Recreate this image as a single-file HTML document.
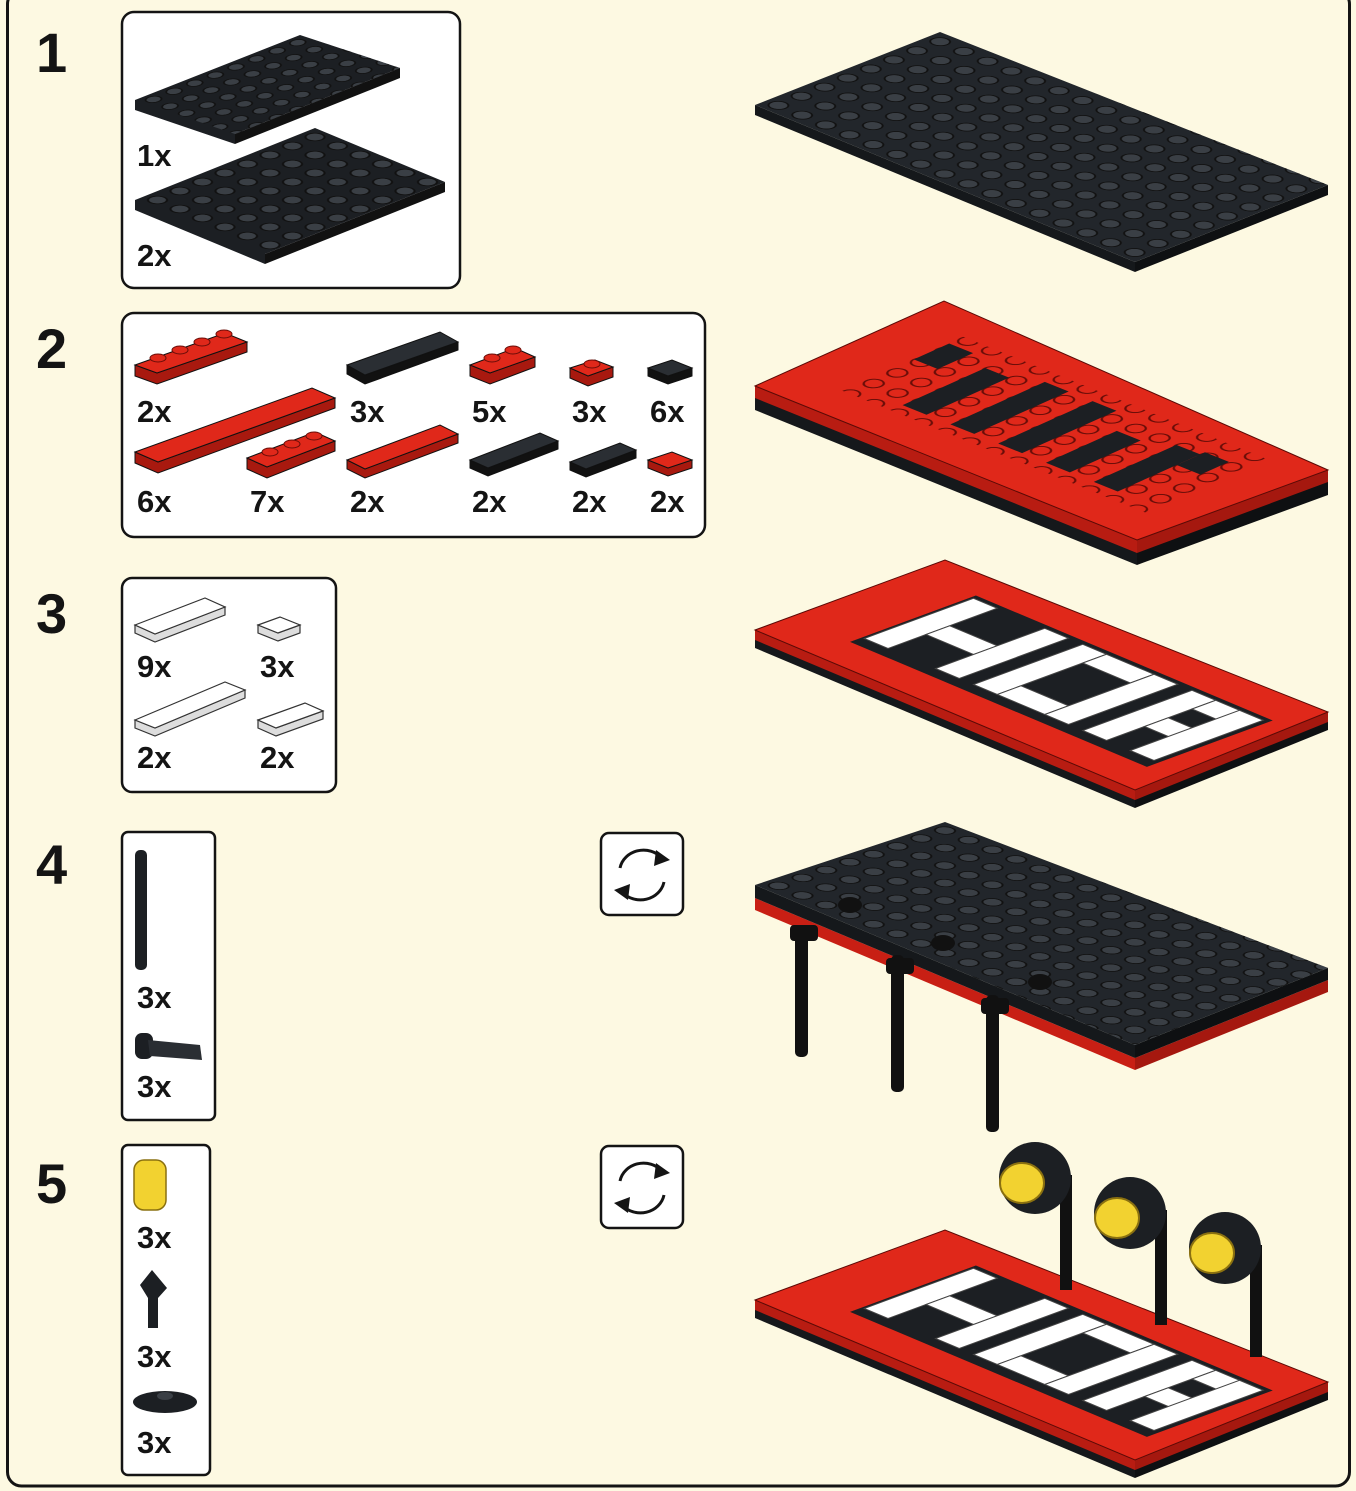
<!DOCTYPE html>
<html><head><meta charset="utf-8"><style>
html,body{margin:0;padding:0;background:#fdf9e2}
svg{display:block}
text{font-family:"Liberation Sans",sans-serif;font-weight:bold;fill:#141414}
</style></head><body>
<svg width="1356" height="1491" viewBox="0 0 1356 1491" xmlns="http://www.w3.org/2000/svg">
<defs>
<pattern id="studB" width="1" height="1" patternUnits="userSpaceOnUse" patternTransform="matrix(23.75 9.81 23.1 -9.1 755 105)">
<circle cx=".5" cy=".5" r=".3" fill="#3a3f45" stroke="#111" stroke-width=".06"/>
</pattern>
<pattern id="studB4" width="1" height="1" patternUnits="userSpaceOnUse" patternTransform="matrix(23.75 9.6 23.75 -7.9 755 885)">
<circle cx=".5" cy=".5" r=".3" fill="#3a3f45" stroke="#111" stroke-width=".06"/>
</pattern>
<pattern id="studR" width="1" height="1" patternUnits="userSpaceOnUse" patternTransform="matrix(23.9 9.6 23.6 -10.6 755 386)">
<circle cx=".5" cy=".5" r=".3" fill="#e0281a" stroke="#6a0d08" stroke-width=".07"/>
</pattern>
<pattern id="studS1" width="1" height="1" patternUnits="userSpaceOnUse" patternTransform="matrix(16.5 6.9 20.6 -8.1 135 100)">
<circle cx=".5" cy=".5" r=".3" fill="#3a3f45" stroke="#111" stroke-width=".07"/>
</pattern>
<pattern id="studS2" width="1" height="1" patternUnits="userSpaceOnUse" patternTransform="matrix(22.5 9 22.5 -9 135 200)">
<circle cx=".5" cy=".5" r=".3" fill="#3a3f45" stroke="#111" stroke-width=".07"/>
</pattern>
</defs>
<rect x="0" y="0" width="1356" height="1491" fill="#fdf9e2"/>
<rect x="7.5" y="-10" width="1342" height="1496" rx="14" fill="none" stroke="#141414" stroke-width="3"/>

<text x="36" y="72" font-size="56">1</text>
<text x="36" y="368" font-size="56">2</text>
<text x="36" y="633" font-size="56">3</text>
<text x="36" y="884" font-size="56">4</text>
<text x="36" y="1203" font-size="56">5</text>

<g fill="#fff" stroke="#141414" stroke-width="2.5">
<rect x="122" y="12" width="338" height="276" rx="12"/>
<rect x="122" y="313" width="583" height="224" rx="12"/>
<rect x="122" y="578" width="214" height="214" rx="10"/>
<rect x="122" y="832" width="93" height="288" rx="6"/>
<rect x="122" y="1145" width="88" height="330" rx="6"/>
<rect x="601" y="833" width="82" height="82" rx="8"/>
<rect x="601" y="1146" width="82" height="82" rx="8"/>
</g>
<g fill="none" stroke="#141414" stroke-width="3">
<path d="M620 868 A24 22 0 0 1 662 858"/><path d="M664 882 A24 22 0 0 1 622 892"/>
<path d="M620 1181 A24 22 0 0 1 662 1171"/><path d="M664 1195 A24 22 0 0 1 622 1205"/>
</g>
<g fill="#141414">
<polygon points="656,850 670,860 654,866"/><polygon points="628,900 614,890 630,884"/>
<polygon points="656,1163 670,1173 654,1179"/><polygon points="628,1213 614,1203 630,1197"/>
</g>

<polygon points="135,100 300,35 400,68 235,134 235,144 135,110" fill="#1c1f23"/>
<polygon points="135,100 300,35 400,68 235,134" fill="url(#studS1)"/>
<polygon points="235,134 400,68 400,78 235,144" fill="#111"/>
<polygon points="135,200 315,128 445,182 265,254 265,264 135,210" fill="#1c1f23"/>
<polygon points="135,200 315,128 445,182 265,254" fill="url(#studS2)"/>
<polygon points="265,254 445,182 445,192 265,264" fill="#111"/>
<text x="137" y="166" font-size="31">1x</text>
<text x="137" y="266" font-size="31">2x</text>

<g stroke="#111" stroke-width="1">
<polygon points="135,365 157,373 247,342 247,352 157,384 135,376" fill="#a8190f"/>
<polygon points="347,365 365,375 458,342 458,350 365,384 347,374" fill="#111"/>
<polygon points="470,365 490,373 535,357 535,367 490,384 470,376" fill="#a8190f"/>
<polygon points="570,368 588,376 613,367 613,377 588,386 570,378" fill="#a8190f"/>
<polygon points="648,368 668,376 692,368 692,376 668,384 648,376" fill="#111"/>
<polygon points="135,452 158,462 335,398 335,408 158,473 135,463" fill="#a8190f"/>
<polygon points="247,458 267,467 335,441 335,451 267,478 247,469" fill="#a8190f"/>
<polygon points="347,460 365,469 458,434 458,443 365,478 347,469" fill="#a8190f"/>
<polygon points="470,460 488,468 558,441 558,449 488,476 470,468" fill="#111"/>
<polygon points="570,462 586,469 636,450 636,458 586,477 570,470" fill="#111"/>
<polygon points="648,460 668,468 692,460 692,468 668,476 648,468" fill="#a8190f"/>
</g>
<g stroke="#111" stroke-width="1">
<polygon points="135,365 225,333 247,342 157,373" fill="#e0281a"/>
<polygon points="347,365 440,332 458,342 365,375" fill="#2a2e33"/>
<polygon points="470,365 515,348 535,357 490,373" fill="#e0281a"/>
<polygon points="570,368 595,360 613,367 588,376" fill="#e0281a"/>
<polygon points="648,368 672,360 692,368 668,376" fill="#2a2e33"/>
<polygon points="135,452 312,388 335,398 158,462" fill="#e0281a"/>
<polygon points="247,458 315,432 335,441 267,467" fill="#e0281a"/>
<polygon points="347,460 440,425 458,434 365,469" fill="#e0281a"/>
<polygon points="470,460 540,433 558,441 488,468" fill="#2a2e33"/>
<polygon points="570,462 620,443 636,450 586,469" fill="#2a2e33"/>
<polygon points="648,460 672,452 692,460 668,468" fill="#e0281a"/>
</g>
<g fill="#e0281a" stroke="#6a0d08" stroke-width="1">
<ellipse cx="158" cy="358" rx="8" ry="4"/><ellipse cx="180" cy="350" rx="8" ry="4"/><ellipse cx="202" cy="342" rx="8" ry="4"/><ellipse cx="224" cy="334" rx="8" ry="4"/>
<ellipse cx="492" cy="358" rx="8" ry="4"/><ellipse cx="513" cy="350" rx="8" ry="4"/>
<ellipse cx="592" cy="364" rx="8" ry="4"/>
<ellipse cx="270" cy="452" rx="8" ry="4"/><ellipse cx="292" cy="444" rx="8" ry="4"/><ellipse cx="314" cy="436" rx="8" ry="4"/>
</g>
<g font-size="31">
<text x="137" y="422">2x</text><text x="350" y="422">3x</text><text x="472" y="422">5x</text><text x="572" y="422">3x</text><text x="650" y="422">6x</text>
<text x="137" y="512">6x</text><text x="250" y="512">7x</text><text x="350" y="512">2x</text><text x="472" y="512">2x</text><text x="572" y="512">2x</text><text x="650" y="512">2x</text>
</g>

<g stroke="#333" stroke-width="1.2">
<polygon points="135,625 155,634 225,607 225,615 155,642 135,633" fill="#ddd"/>
<polygon points="258,625 278,633 300,625 300,633 278,641 258,633" fill="#ddd"/>
<polygon points="135,720 155,728 245,690 245,698 155,736 135,728" fill="#ddd"/>
<polygon points="258,720 276,728 323,711 323,719 276,736 258,728" fill="#ddd"/>
<polygon points="135,625 205,598 225,607 155,634" fill="#fff"/>
<polygon points="258,625 280,617 300,625 278,633" fill="#fff"/>
<polygon points="135,720 225,682 245,690 155,728" fill="#fff"/>
<polygon points="258,720 305,703 323,711 276,728" fill="#fff"/>
</g>
<g font-size="31"><text x="137" y="677">9x</text><text x="260" y="677">3x</text><text x="137" y="768">2x</text><text x="260" y="768">2x</text></g>

<rect x="135" y="850" width="12" height="120" rx="5" fill="#1c1f23"/>
<text x="137" y="1008" font-size="31">3x</text>
<rect x="135" y="1033" width="18" height="26" rx="7" fill="#1c1f23"/>
<polygon points="148,1040 200,1045 202,1060 150,1056" fill="#2a2e33"/>
<text x="137" y="1097" font-size="31">3x</text>

<rect x="134" y="1160" width="32" height="50" rx="10" fill="#f2d230" stroke="#8a7010" stroke-width="1.5"/>
<text x="137" y="1248" font-size="31">3x</text>
<polygon points="140,1285 152,1270 167,1288 158,1298 158,1328 148,1328 148,1298" fill="#1c1f23"/>
<text x="137" y="1367" font-size="31">3x</text>
<ellipse cx="165" cy="1402" rx="32" ry="11" fill="#1c1f23"/><ellipse cx="165" cy="1396" rx="8" ry="4" fill="#3a3f45"/>
<text x="137" y="1453" font-size="31">3x</text>

<!-- STEP 1 -->
<polygon points="755,105 1135,262 1135,272 755,115" fill="#15181b"/>
<polygon points="1135,262 1328,185 1328,195 1135,272" fill="#0e1012"/>
<polygon points="755,105 940,32 1328,185 1135,262" fill="#22262b"/>
<polygon points="755,105 940,32 1328,185 1135,262" fill="url(#studB)"/>

<!-- STEP 2 -->
<polygon points="755,386 1137,540 1137,565 755,410" fill="#15181b"/>
<polygon points="1137,540 1328,470 1328,495 1137,565" fill="#0e1012"/>
<polygon points="755,386 1137,540 1137,553 755,398" fill="#b81c12"/>
<polygon points="1137,540 1328,470 1328,482 1137,553" fill="#a5180f"/>
<polygon points="755,386 944,301 1328,470 1137,540" fill="#e0281a" stroke="#5a0a06" stroke-width="1"/>
<polygon points="838,389 1149,514 1269,460 959,335" fill="url(#studR)"/>
<g transform="matrix(23.9 9.6 23.6 -10.6 755 386)" fill="#1c1f23">
<rect x="2.2" y="4.5" width="1" height="1.5"/>
<rect x="4.2" y="2" width="1" height="3.5"/>
<rect x="6.2" y="2" width="1" height="4"/>
<rect x="8.2" y="2" width="1" height="4"/>
<rect x="10.2" y="2" width="1" height="3"/>
<rect x="12.2" y="2" width="1" height="3.5"/>
<rect x="13.2" y="4.5" width="1" height="1.2"/>
</g>

<!-- STEP 3 -->
<polygon points="755,630 1135,790 1135,808 755,648" fill="#15181b"/>
<polygon points="1135,790 1328,712 1328,730 1135,808" fill="#0e1012"/>
<polygon points="755,630 1135,790 1135,800 755,640" fill="#b81c12"/>
<polygon points="1135,790 1328,712 1328,722 1135,800" fill="#a5180f"/>
<polygon points="755,630 945,560 1328,712 1135,790" fill="#e0281a" stroke="#5a0a06" stroke-width="1"/>
<g transform="matrix(23.75 10 23.75 -8.75 755 630)">
<polygon points="2.5,1.5 15,1.5 15,6.8 2.5,6.8" fill="#1c1f23"/>
<g fill="#fff" stroke="#444" stroke-width="1">
<rect x="2.6" y="2" width="1" height="4.6" vector-effect="non-scaling-stroke"/>
<rect x="3.6" y="3.6" width="2" height="1" vector-effect="non-scaling-stroke"/>
<rect x="5.6" y="2" width="1" height="4.6" vector-effect="non-scaling-stroke"/>
<rect x="7.2" y="2" width="1" height="4.6" vector-effect="non-scaling-stroke"/>
<rect x="8.2" y="2" width="2" height="1" vector-effect="non-scaling-stroke"/>
<rect x="8.2" y="5.6" width="2" height="1" vector-effect="non-scaling-stroke"/>
<rect x="10.2" y="2" width="1" height="4.6" vector-effect="non-scaling-stroke"/>
<rect x="11.8" y="2" width="1" height="4.6" vector-effect="non-scaling-stroke"/>
<rect x="12.8" y="5.6" width="1.6" height="1" vector-effect="non-scaling-stroke"/>
<rect x="12.8" y="3.6" width="1.6" height="1" vector-effect="non-scaling-stroke"/>
<rect x="13.8" y="2" width="1" height="4.6" vector-effect="non-scaling-stroke"/>
</g></g>

<!-- STEP 4 -->
<polygon points="755,898 1135,1058 1135,1070 755,910" fill="#c81f14"/>
<polygon points="1135,1058 1328,980 1328,992 1135,1070" fill="#a5180f"/>
<polygon points="755,885 1135,1045 1135,1058 755,898" fill="#15181b"/>
<polygon points="1135,1045 1328,968 1328,980 1135,1058" fill="#0e1012"/>
<polygon points="755,885 945,822 1328,968 1135,1045" fill="#22262b"/>
<polygon points="755,885 945,822 1328,968 1135,1045" fill="url(#studB4)"/>
<g fill="#111">
<rect x="795" y="925" width="13" height="132" rx="5"/>
<rect x="891" y="955" width="13" height="137" rx="5"/>
<rect x="986" y="995" width="13" height="137" rx="5"/>
<rect x="790" y="925" width="28" height="16" rx="4"/><rect x="886" y="958" width="28" height="16" rx="4"/><rect x="981" y="998" width="28" height="16" rx="4"/>
<ellipse cx="850" cy="905" rx="12" ry="8"/><ellipse cx="943" cy="943" rx="12" ry="8"/><ellipse cx="1040" cy="982" rx="12" ry="8"/>
</g>

<!-- STEP 5 -->
<g transform="translate(0,670)">
<polygon points="755,630 1135,790 1135,808 755,648" fill="#15181b"/>
<polygon points="1135,790 1328,712 1328,730 1135,808" fill="#0e1012"/>
<polygon points="755,630 1135,790 1135,800 755,640" fill="#b81c12"/>
<polygon points="1135,790 1328,712 1328,722 1135,800" fill="#a5180f"/>
<polygon points="755,630 945,560 1328,712 1135,790" fill="#e0281a" stroke="#5a0a06" stroke-width="1"/>
<g transform="matrix(23.75 10 23.75 -8.75 755 630)">
<polygon points="2.5,1.5 15,1.5 15,6.8 2.5,6.8" fill="#1c1f23"/>
<g fill="#fff" stroke="#444" stroke-width="1">
<rect x="2.6" y="2" width="1" height="4.6" vector-effect="non-scaling-stroke"/>
<rect x="3.6" y="3.6" width="2" height="1" vector-effect="non-scaling-stroke"/>
<rect x="5.6" y="2" width="1" height="4.6" vector-effect="non-scaling-stroke"/>
<rect x="7.2" y="2" width="1" height="4.6" vector-effect="non-scaling-stroke"/>
<rect x="8.2" y="2" width="2" height="1" vector-effect="non-scaling-stroke"/>
<rect x="8.2" y="5.6" width="2" height="1" vector-effect="non-scaling-stroke"/>
<rect x="10.2" y="2" width="1" height="4.6" vector-effect="non-scaling-stroke"/>
<rect x="11.8" y="2" width="1" height="4.6" vector-effect="non-scaling-stroke"/>
<rect x="12.8" y="5.6" width="1.6" height="1" vector-effect="non-scaling-stroke"/>
<rect x="12.8" y="3.6" width="1.6" height="1" vector-effect="non-scaling-stroke"/>
<rect x="13.8" y="2" width="1" height="4.6" vector-effect="non-scaling-stroke"/>
</g></g>
</g>
<g>
<rect x="1060" y="1175" width="12" height="115" fill="#111"/>
<rect x="1155" y="1210" width="12" height="115" fill="#111"/>
<rect x="1250" y="1245" width="12" height="112" fill="#111"/>
<ellipse cx="1035" cy="1178" rx="36" ry="36" fill="#1c1f23"/>
<ellipse cx="1130" cy="1213" rx="36" ry="36" fill="#1c1f23"/>
<ellipse cx="1225" cy="1248" rx="36" ry="36" fill="#1c1f23"/>
<ellipse cx="1022" cy="1183" rx="22" ry="20" fill="#f2d230" stroke="#8a7010" stroke-width="2"/>
<ellipse cx="1117" cy="1218" rx="22" ry="20" fill="#f2d230" stroke="#8a7010" stroke-width="2"/>
<ellipse cx="1212" cy="1253" rx="22" ry="20" fill="#f2d230" stroke="#8a7010" stroke-width="2"/>
</g>
</svg>
</body></html>
